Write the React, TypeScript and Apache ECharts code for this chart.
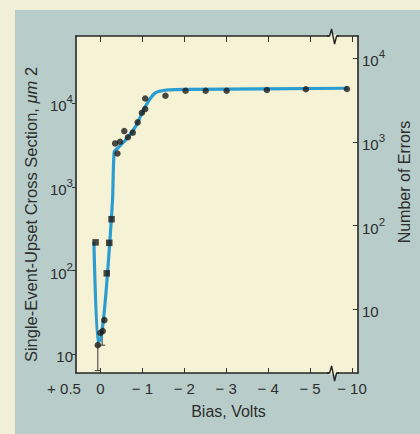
import React, { useEffect, useRef } from 'react';
import * as echarts from 'echarts';

// Broken bias axis: position p (0..5) = -p volts, position 6 = -10 volts
const xMinPos = -0.584;
const xMaxPos = 6.145;
const breakPos = 5.55;
const xTickPositions = [0, 1, 2, 3, 4, 5, 6];
const xTickLabels = ['0', '− 1', '− 2', '− 3', '− 4', '− 5', '− 10'];
const xEdgeLabel = '+ 0.5';

const leftMin = 6.0;
const leftMax = 63500;
const rightMin = 1.73;
const rightMax = 18400;

// measured points (circles)
const circlePos = [-0.063, 0.0, 0.054, 0.093, 0.35, 0.404, 0.467, 0.568, 0.654, 0.771, 0.888, 0.988, 1.068, 1.068, 1.55, 2.03, 2.51, 3.01, 3.97, 4.9, 5.88];
const circleVal = [12.9, 18.1, 19, 25.7, 3310, 2510, 3470, 4650, 3920, 4450, 5910, 7690, 8510, 11400, 12300, 14100, 14100, 14100, 14400, 14700, 14800];
// measured points (squares)
const squarePos = [-0.117, 0.15, 0.21, 0.264];
const squareVal = [218, 93, 215, 412];
// fitted curve
const curvePos = [-0.157, -0.063, -0.007, 0.07, 0.164, 0.287, 0.327, 0.404, 0.6, 0.834, 1.068, 1.3, 1.61, 2.08, 5.89];
const curveVal = [221, 14.1, 14.8, 25.7, 88, 690, 2630, 2880, 3630, 5250, 9120, 13200, 14400, 14650, 15100];
// error bars
const errPos = [-0.063, 0.04];
const errLow = [6.4, 12.9];
const errHigh = [17, 26];

const FONT = '"Liberation Sans", Arial, Helvetica, sans-serif';
const TEXT = '#2e2e2e';
const PLOT_BG = '#f6f2d6';
const PANEL_BG = '#b8cdca';
const OUTER_BG = '#f2efd8';
const LINE = '#2b9dd0';

const powLabel = (v: number) => {
  const e = Math.round(Math.log10(v));
  if (Math.abs(Math.log10(v) - e) > 1e-6) return '';
  if (e === 1) return '{b|10}';
  return '{b|10}{s|' + e + '}';
};
const richPow = {
  b: { fontSize: 15, fontFamily: FONT, color: TEXT, lineHeight: 20, verticalAlign: 'bottom' },
  s: { fontSize: 11.5, fontFamily: FONT, color: TEXT, lineHeight: 20, verticalAlign: 'top' },
};

export default function App() {
  const ref = useRef<HTMLDivElement>(null);
  useEffect(() => {
    if (!ref.current) return;
    const chart = echarts.init(ref.current, undefined, { renderer: 'svg' });
    const option: any = {
      animation: false,
      grid: { left: 76, right: 56, top: 36, bottom: 61, show: true, backgroundColor: PLOT_BG, borderWidth: 0 },
      xAxis: [
        {
          type: 'value', min: xMinPos, max: xMaxPos, position: 'bottom',
          name: 'Bias, Volts', nameLocation: 'middle', nameGap: 30,
          nameTextStyle: { fontFamily: FONT, fontSize: 16, color: TEXT, padding: [0, 0, 0, 23] },
          axisLine: { show: true, onZero: false, lineStyle: { color: '#262626', width: 1.6 } },
          axisTick: { show: true, inside: true, length: 5, customValues: xTickPositions, lineStyle: { color: '#333', width: 1 } },
          axisLabel: {
            show: true, margin: 8, customValues: [xMinPos, ...xTickPositions],
            fontFamily: FONT, fontSize: 15, color: TEXT,
            formatter: (v: number) => {
              if (Math.abs(v - xMinPos) < 1e-6) return '{e|' + xEdgeLabel + '}';
              const i = xTickPositions.findIndex((p) => Math.abs(p - v) < 1e-6);
              return i >= 0 ? xTickLabels[i] : '';
            },
            rich: { e: { fontFamily: FONT, fontSize: 15, color: TEXT, padding: [0, 24, 0, 0] } },
          },
          splitLine: { show: false },
        },
        {
          type: 'value', min: xMinPos, max: xMaxPos, position: 'top',
          axisLine: { show: true, onZero: false, lineStyle: { color: '#262626', width: 1.6 } },
          axisTick: { show: true, inside: true, length: 6, customValues: xTickPositions, lineStyle: { color: '#333', width: 1 } },
          axisLabel: { show: false },
          splitLine: { show: false },
        },
      ],
      yAxis: [
        {
          type: 'log', logBase: 10, min: leftMin, max: leftMax, position: 'left',
          name: 'Single-Event-Upset Cross Section, {i|μm} 2', nameLocation: 'middle', nameGap: 27, nameRotate: 90,
          nameTextStyle: {
            fontFamily: FONT, fontSize: 16.5, color: TEXT, padding: [0, 20, 0, 0],
            rich: { i: { fontFamily: FONT, fontSize: 16.5, color: TEXT, fontStyle: 'italic' } },
          },
          axisLine: { show: true, onZero: false, lineStyle: { color: '#262626', width: 1.6 } },
          axisTick: { show: true, inside: false, length: 4, lineStyle: { color: '#333', width: 1 } },
          axisLabel: { show: true, margin: 3, showMinLabel: false, showMaxLabel: false, formatter: powLabel, rich: richPow },
          splitLine: { show: false },
        },
        {
          type: 'log', logBase: 10, min: rightMin, max: rightMax, position: 'right',
          name: 'Number of Errors', nameLocation: 'middle', nameGap: 28, nameRotate: 90,
          nameTextStyle: { fontFamily: FONT, fontSize: 16, color: TEXT, padding: [0, 0, 0, 45] },
          axisLine: { show: true, onZero: false, lineStyle: { color: '#262626', width: 1.6 } },
          axisTick: { show: true, inside: true, length: 5, lineStyle: { color: '#333', width: 1 } },
          axisLabel: { show: true, margin: 4, showMinLabel: false, showMaxLabel: false, formatter: powLabel, rich: richPow },
          splitLine: { show: false },
        },
      ],
      series: [
        {
          type: 'custom', xAxisIndex: 0, yAxisIndex: 0, z: 2,
          data: errPos.map((p, i) => [p, errLow[i], errHigh[i]]),
          renderItem: (params: any, api: any) => {
            const lo = api.coord([api.value(0), api.value(1)]);
            const hi = api.coord([api.value(0), api.value(2)]);
            const st = { stroke: '#3a3a3a', lineWidth: 1 };
            return {
              type: 'group',
              children: [
                { type: 'line', shape: { x1: lo[0], y1: lo[1], x2: hi[0], y2: hi[1] }, style: st },
                { type: 'line', shape: { x1: lo[0] - 3, y1: lo[1], x2: lo[0] + 3, y2: lo[1] }, style: st },
              ],
            };
          },
        },
        {
          type: 'line', xAxisIndex: 0, yAxisIndex: 0, z: 3,
          data: curvePos.map((p, i) => [p, curveVal[i]]),
          smooth: 0.25, showSymbol: false, symbol: 'none',
          lineStyle: { color: LINE, width: 3.2 },
        },
        {
          type: 'scatter', xAxisIndex: 0, yAxisIndex: 0, z: 4,
          data: circlePos.map((p, i) => [p, circleVal[i]]),
          symbol: 'circle', symbolSize: 6.5,
          itemStyle: { color: '#1d1d1d' },
        },
        {
          type: 'scatter', xAxisIndex: 0, yAxisIndex: 0, z: 4,
          data: squarePos.map((p, i) => [p, squareVal[i]]),
          symbol: 'rect', symbolSize: 6.5,
          itemStyle: { color: '#1d1d1d' },
        },
      ],
    };
    chart.setOption(option);

    const bx = chart.convertToPixel({ xAxisIndex: 0 }, breakPos) as number;
    const yTop = chart.convertToPixel({ yAxisIndex: 0 }, leftMax) as number;
    const yBot = chart.convertToPixel({ yAxisIndex: 0 }, leftMin) as number;
    const zig = (y: number) => [
      { type: 'rect', shape: { x: bx - 4, y: y - 1.5, width: 8, height: 3 }, style: { fill: PLOT_BG }, z: 100 },
      {
        type: 'polyline', z: 101,
        shape: { points: [[bx - 6, y], [bx - 3.5, y], [bx - 1.5, y - 7], [bx + 1.5, y + 8], [bx + 3.5, y], [bx + 6, y]] },
        style: { stroke: '#262626', lineWidth: 1.4, fill: 'none' },
      },
    ];
    chart.setOption({ graphic: [...zig(yTop), ...zig(yBot)] });

    return () => chart.dispose();
  }, []);

  return (
    <div style={{ position: 'fixed', left: 0, top: 0, width: 420, height: 434, background: OUTER_BG }}>
      <div style={{ position: 'absolute', left: 15, top: 10, width: 405, height: 424, background: PANEL_BG }} />
      <div ref={ref} style={{ position: 'absolute', left: 0, top: 0, width: 420, height: 434 }} />
    </div>
  );
}
